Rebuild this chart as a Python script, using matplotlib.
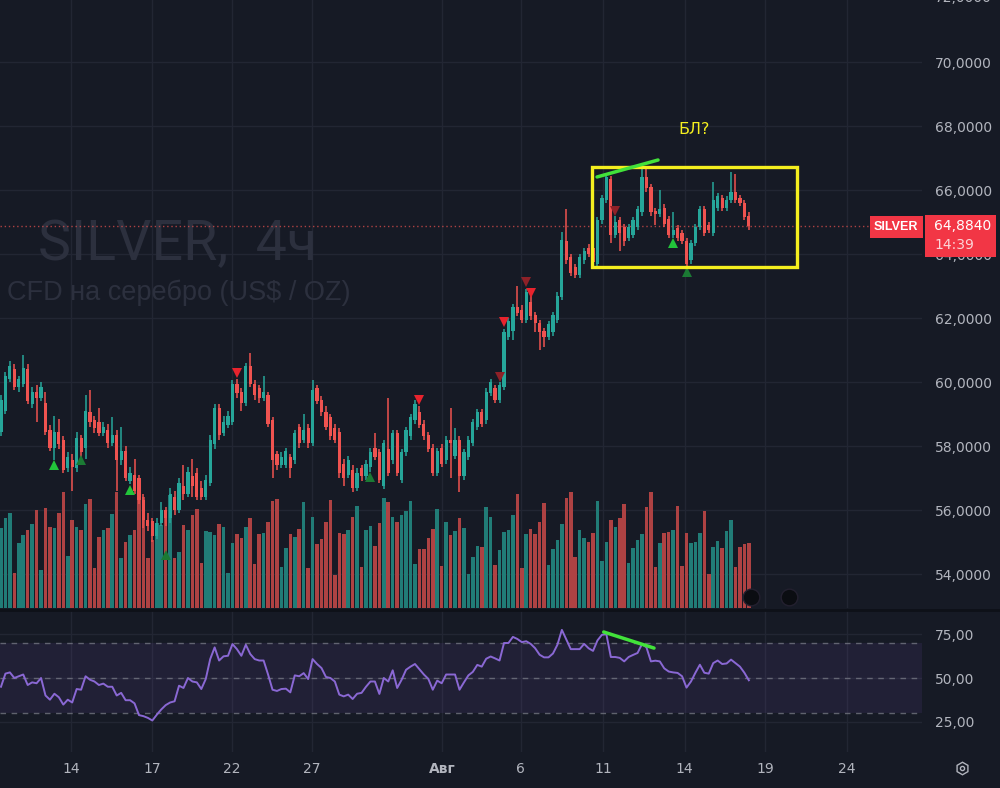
import matplotlib
matplotlib.use("Agg")
import matplotlib.pyplot as plt
from matplotlib.patches import Rectangle
from matplotlib.lines import Line2D
from matplotlib.ticker import FuncFormatter

plt.rcParams['font.family'] = ['DejaVu Sans']

# ---- SILVER 4h bars ----
opens = [
    58.44, 59.10, 60.10, 60.40, 59.85, 59.95, 60.40, 59.30, 59.70, 59.50,
    59.35, 58.50, 57.95, 58.45, 58.20, 57.30, 57.55, 57.30, 58.25, 57.95,
    59.05, 58.80, 58.75, 58.40, 58.50, 58.10, 58.35, 57.55, 57.85, 56.90,
    57.10, 57.00, 56.30, 55.70, 55.65, 55.20, 55.60, 56.00, 55.75, 56.40,
    56.00, 56.75, 56.50, 57.05, 57.15, 56.70, 56.40, 56.85, 58.05, 59.20,
    58.40, 58.65, 58.75, 59.95, 59.70, 59.35, 60.50, 59.95, 59.80, 59.50,
    59.60, 58.80, 57.75, 57.40, 57.40, 57.65, 57.55, 58.60, 58.20, 58.55,
    58.10, 59.80, 59.45, 59.05, 58.90, 58.55, 58.45, 57.45, 57.10, 57.25,
    56.70, 57.30, 57.05, 57.35, 57.95, 57.80, 56.75, 57.90, 57.55, 58.40,
    56.95, 57.80, 58.30, 58.80, 59.05, 58.70, 58.35, 57.95, 57.15, 57.95,
    57.55, 58.20, 57.70, 58.20, 57.05, 57.65, 58.10, 58.60, 59.05, 58.80,
    59.65, 59.80, 59.45, 59.85, 61.40, 61.60, 62.35, 62.25, 61.95, 62.50,
    62.10, 61.85, 61.60, 61.40, 61.55, 61.95, 62.65, 64.40, 63.90, 63.60,
    63.35, 63.80, 64.20, 64.20, 63.70, 65.05, 65.70, 66.35, 64.60, 65.05,
    64.85, 64.50, 64.60, 64.85, 65.30, 66.40, 66.10, 65.35, 65.25, 65.45,
    65.10, 64.60, 64.80, 64.65, 64.40, 63.80, 64.35, 64.85, 65.40, 64.90,
    64.65, 65.45, 65.75, 65.45, 65.70, 65.95, 65.75, 65.60, 65.20,
]
highs = [
    59.60, 60.30, 60.65, 60.55, 60.20, 60.85, 60.55, 59.85, 59.90, 60.00,
    59.70, 58.65, 58.95, 58.85, 58.30, 57.80, 57.75, 58.45, 58.35, 59.60,
    59.75, 58.95, 59.20, 58.75, 58.70, 58.90, 58.50, 58.60, 58.00, 57.35,
    57.60, 57.10, 56.50, 55.90, 55.75, 55.75, 56.25, 56.10, 56.70, 56.60,
    57.00, 57.40, 57.35, 57.60, 57.30, 56.90, 57.10, 58.35, 59.30, 59.30,
    58.95, 59.10, 60.05, 60.10, 59.80, 60.60, 60.90, 60.05, 59.90, 60.20,
    59.70, 58.90, 57.85, 57.80, 57.95, 57.75, 58.50, 58.70, 59.00, 58.70,
    60.05, 59.90, 59.55, 59.25, 59.00, 58.70, 58.55, 57.60, 57.70, 57.40,
    57.30, 57.40, 57.55, 57.95, 58.40, 57.90, 58.20, 59.50, 58.50, 58.50,
    57.90, 58.60, 59.00, 59.45, 59.25, 58.80, 58.45, 58.05, 57.95, 58.05,
    58.30, 59.20, 58.55, 58.30, 57.90, 58.30, 58.85, 59.15, 59.15, 59.80,
    60.10, 59.90, 60.00, 61.65, 62.00, 62.45, 63.00, 62.40, 62.90, 62.90,
    62.20, 61.95, 61.70, 61.90, 62.20, 62.80, 64.70, 65.40, 64.00, 63.70,
    64.00, 64.20, 64.30, 64.35, 65.15, 65.85, 66.50, 66.45, 65.20, 65.15,
    64.95, 64.95, 65.15, 65.50, 66.80, 66.70, 66.20, 65.45, 66.00, 65.55,
    65.20, 65.30, 64.90, 64.75, 64.50, 64.45, 64.95, 65.50, 65.50, 65.00,
    66.25, 65.90, 65.85, 65.80, 66.55, 66.50, 65.85, 65.70, 65.30,
]
lows = [
    58.30, 59.00, 60.00, 59.75, 59.70, 59.85, 59.30, 59.20, 58.75, 59.40,
    58.35, 57.85, 57.55, 57.90, 57.15, 57.20, 56.60, 57.20, 57.60, 57.60,
    58.60, 58.40, 58.30, 58.30, 57.95, 58.00, 56.60, 57.40, 56.90, 56.80,
    56.50, 56.20, 55.45, 55.35, 55.00, 55.10, 55.50, 55.50, 55.60, 55.85,
    55.90, 56.30, 56.40, 56.40, 56.30, 56.30, 56.30, 56.75, 57.90, 58.20,
    58.30, 58.55, 58.65, 59.50, 59.10, 59.25, 59.85, 59.45, 59.35, 59.40,
    58.60, 57.00, 57.25, 57.30, 57.30, 57.00, 57.45, 57.95, 58.10, 57.95,
    58.00, 59.30, 58.95, 58.50, 58.20, 58.10, 57.00, 56.75, 57.00, 56.55,
    56.60, 56.90, 56.95, 57.20, 57.55, 56.85, 56.65, 57.05, 57.45, 57.05,
    56.85, 57.70, 58.20, 58.70, 58.55, 58.20, 57.80, 57.05, 57.05, 57.35,
    57.45, 57.00, 57.60, 56.55, 56.95, 57.55, 58.00, 58.50, 58.60, 58.70,
    59.55, 59.35, 59.35, 59.75, 61.30, 61.30, 62.05, 61.85, 61.85, 61.95,
    61.55, 61.00, 61.10, 61.30, 61.45, 61.85, 62.55, 63.70, 63.30, 63.25,
    63.25, 63.70, 63.90, 63.65, 63.60, 64.95, 65.60, 64.35, 64.50, 64.10,
    64.25, 64.40, 64.50, 64.75, 65.20, 65.95, 65.20, 64.90, 65.15, 64.85,
    64.50, 64.50, 64.40, 64.30, 63.55, 63.70, 64.25, 64.75, 64.55, 64.65,
    64.55, 65.35, 65.35, 65.35, 65.60, 65.60, 65.50, 65.05, 64.75,
]
closes = [
    59.44, 60.20, 60.50, 59.85, 60.10, 60.45, 59.40, 59.70, 59.50, 59.85,
    58.45, 57.95, 58.45, 58.05, 57.25, 57.65, 57.35, 58.25, 57.80, 59.10,
    58.75, 58.55, 58.40, 58.60, 58.10, 58.35, 57.55, 57.85, 57.00, 57.15,
    56.60, 56.30, 55.70, 55.50, 55.20, 55.60, 56.00, 55.75, 56.50, 56.00,
    56.85, 56.50, 57.20, 56.75, 56.40, 56.40, 56.95, 58.20, 59.20, 58.35,
    58.75, 58.95, 59.95, 59.65, 59.35, 60.50, 59.95, 59.60, 59.50, 59.70,
    58.70, 57.55, 57.40, 57.65, 57.85, 57.30, 58.40, 58.10, 58.50, 58.10,
    59.75, 59.40, 59.05, 58.60, 58.30, 58.20, 57.15, 57.00, 57.55, 56.70,
    57.15, 57.05, 57.45, 57.80, 57.65, 56.95, 58.10, 57.15, 58.40, 57.15,
    57.80, 58.50, 58.90, 59.30, 58.65, 58.30, 57.90, 57.15, 57.85, 57.45,
    58.20, 58.10, 58.20, 57.05, 57.80, 58.20, 58.75, 59.05, 58.70, 59.70,
    60.00, 59.45, 59.90, 61.55, 61.90, 62.35, 62.15, 61.95, 62.80, 62.05,
    61.85, 61.55, 61.40, 61.80, 62.10, 62.70, 64.45, 63.80, 63.40, 63.35,
    63.90, 64.10, 64.00, 63.75, 65.05, 65.75, 66.40, 64.60, 65.00, 64.65,
    64.40, 64.85, 65.05, 65.40, 66.40, 66.05, 65.30, 65.25, 65.40, 64.95,
    64.60, 64.75, 64.50, 64.40, 63.70, 64.35, 64.85, 65.40, 64.65, 64.75,
    65.70, 65.80, 65.45, 65.70, 65.95, 65.70, 65.60, 65.15, 64.884,
]
# volume, thousands of lots
volumes = [
    80, 90, 95, 35, 65, 73, 78, 84, 98, 38,
    100, 81, 80, 95, 116, 52, 88, 81, 78, 104,
    109, 40, 71, 78, 80, 94, 116, 50, 66, 73,
    78, 113, 111, 50, 68, 85, 83, 91, 113, 50,
    56, 83, 78, 93, 99, 45, 77, 76, 73, 84,
    81, 35, 65, 74, 70, 81, 90, 44, 74, 75,
    86, 107, 109, 41, 60, 74, 71, 79, 106, 40,
    91, 64, 69, 86, 108, 33, 75, 74, 78, 91,
    102, 41, 78, 82, 62, 85, 110, 106, 91, 86,
    93, 97, 107, 44, 59, 59, 70, 79, 99, 42,
    86, 73, 77, 90, 80, 34, 51, 62, 61, 101,
    91, 43, 58, 76, 78, 93, 114, 40, 74, 79,
    74, 86, 105, 43, 59, 68, 84, 110, 116, 51,
    78, 70, 66, 75, 107, 47, 66, 88, 81, 90,
    104, 45, 60, 68, 74, 101, 116, 41, 65, 75,
    76, 78, 102, 42, 75, 65, 66, 75, 97, 34,
    61, 67, 60, 77, 88, 41, 61, 64, 65,
]
rsi = [
    45, 52.5, 53.2, 50, 51, 52, 46, 47.5, 47, 50,
    40, 37.6, 41, 39, 34.8, 37.6, 36, 43.7, 43.3, 51,
    49, 48, 46, 46.8, 45, 45, 40, 41.5, 37.3, 37.3,
    35.5, 28.8, 28.2, 27.2, 25.7, 29, 32, 34.5, 36, 36.7,
    45.6, 44.3, 50, 48, 47.5, 43.7, 49.4, 60.8, 67.5, 60,
    62.4, 62.7, 69.4, 66.5, 62.7, 69, 63.7, 60.8, 60, 60,
    52, 43.3, 42.6, 43.7, 43.9, 41.8, 51.5, 51, 52.8, 49.4,
    60.8, 58, 55.7, 50.6, 50, 48, 40.5, 39.5, 40.5, 38,
    41, 41.5, 45, 48, 48, 40.9, 50, 48, 54.4, 44.3,
    49, 54.7, 56.5, 58, 55, 52, 49.5, 43.3, 48.5, 47,
    52, 52, 52, 43.3, 47.5, 51.5, 53.5, 57.5, 56.5, 61,
    62.3, 61.2, 60, 70, 70, 73.5, 72.3, 70.5, 71, 69.5,
    67, 63.3, 61.8, 61.8, 64, 69, 77.5, 72, 66.5, 66.5,
    66.5, 69.5, 67, 65.5, 71.5, 74.7, 75, 62, 62, 61.5,
    59.5, 62, 63.2, 64.3, 69.4, 67.5, 59.5, 59.9, 59.5, 55.5,
    53.7, 53.2, 52.9, 51, 44.5, 48, 53, 57.6, 53, 52.5,
    58.5, 60, 58, 58.3, 60.5, 58.5, 56.5, 53, 48.7,
]

# time axis (positions in bars)
day_ticks = [15.7, 33.9, 51.9, 69.9, 99.1, 116.8, 135.2, 153.6, 171.6, 190.0]
day_labels = ['14', '17', '22', '27', 'Авг', '6', '11', '14', '19', '24']
price_ticks = [54, 56, 58, 60, 62, 64, 66, 68, 70]
rsi_ticks = [25, 50, 75]
rsi_levels = [30, 50, 70]

# indicator signals: (bar, price)
up_strong = ([12, 29, 151], [57.41, 56.63, 64.34])
up_weak = ([18, 37, 83, 154], [57.56, 54.59, 57.03, 63.44])
dn_strong = ([53, 94, 113, 119], [60.28, 59.44, 61.88, 62.78])
dn_weak = ([112, 118, 138], [60.16, 63.13, 65.34])
event_bars = [168.5, 177.0]

# hand drawn marks
box_bars = (132.7, 178.8)
box_prices = (63.59, 66.72)
trend_price = ([133.9, 147.6], [66.41, 66.94])
trend_rsi = ([135.4, 146.7], [76.3, 67.1])
note_pos = (155.8, 67.9)

BG = '#161a25'
GRID = '#222633'
TXT = '#b2b5be'
UP = '#26a69a'
DOWN = '#ef5350'
VUP = '#217c77'
VDOWN = '#ae4243'
YEL = '#f5ef1f'
LIME = '#42e23a'
TAG = '#f23645'
WM = '#2c303e'

n = len(closes)
bars = list(range(n))
is_up = [c >= o for o, c in zip(opens, closes)]
ccol = [UP if u else DOWN for u in is_up]
vcol = [VUP if u else VDOWN for u in is_up]

fig = plt.figure(figsize=(10, 7.88), dpi=100)
fig.patch.set_facecolor(BG)

W = 0.922
xlim = (-0.22, 206.9)
ax = fig.add_axes([0, 180 / 788, W, 608 / 788])
axr = fig.add_axes([0, 36 / 788, W, 141 / 788])

for a in (ax, axr):
    a.set_facecolor(BG)
    for s in a.spines.values():
        s.set_visible(False)
    a.set_xlim(*xlim)
    a.set_xticks(day_ticks)
    a.yaxis.tick_right()
    a.tick_params(axis='y', length=0, pad=9, labelcolor=TXT, labelsize=10)
    a.grid(True, color=GRID, lw=1)
    a.set_axisbelow(True)

# ---- price pane ----
ax.set_ylim(52.94, 71.94)
ax.set_yticks(price_ticks)
ax.yaxis.set_major_formatter(FuncFormatter(lambda v, p: f"{v:.4f}".replace('.', ',')))
ax.tick_params(axis='x', length=0, labelbottom=False)
ax.annotate("72,0000", xy=(1, 72), xycoords=ax.get_yaxis_transform(), xytext=(9, 0),
            textcoords='offset points', va='center', ha='left', color=TXT, fontsize=10,
            annotation_clip=False)

ax.text(38 / 1000, 1 - 260 / 788, "SILVER,  4ч", transform=fig.transFigure,
        fontsize=40, color=WM, family='Roboto', va='baseline', zorder=0.6)
ax.text(7 / 1000, 1 - 300 / 788, "CFD на серебро (US$ / OZ)", transform=fig.transFigure,
        fontsize=19.5, color=WM, family='Liberation Sans', va='baseline', zorder=0.6)

# volume at the bottom of the price pane
vol_span = 608
ax.bar(bars, [v / vol_span for v in volumes], width=0.8, bottom=0, color=vcol, lw=0,
       transform=ax.get_xaxis_transform(), zorder=1)

# candles
ax.vlines(bars, lows, highs, colors=ccol, lw=1.1, zorder=2)
body_h = [max(abs(c - o), 0.03) for o, c in zip(opens, closes)]
body_b = [min(o, c) for o, c in zip(opens, closes)]
ax.bar(bars, body_h, bottom=body_b, width=0.72, color=ccol, lw=0, zorder=3)

ax.plot(*up_strong, ls='none', marker='^', ms=7, color='#22c43a', mew=0, zorder=4)
ax.plot(*up_weak, ls='none', marker='^', ms=7, color='#1b7a34', mew=0, zorder=4)
ax.plot(*dn_strong, ls='none', marker='v', ms=7, color='#e8232d', mew=0, zorder=4)
ax.plot(*dn_weak, ls='none', marker='v', ms=7, color='#8e2128', mew=0, zorder=4)

last = closes[-1]
ax.axhline(last, color=DOWN, lw=1, ls=(0, (1, 2)), alpha=0.7, zorder=1.5)

ax.add_patch(Rectangle((box_bars[0], box_prices[0]), box_bars[1] - box_bars[0],
                       box_prices[1] - box_prices[0], fill=False, ec=YEL, lw=2.4, zorder=5))
ax.plot(*trend_price, color=LIME, lw=2.5, solid_capstyle='round', zorder=6)
ax.text(*note_pos, "БЛ?", color=YEL, fontsize=11.5, ha='center', va='center', zorder=6)

ax.plot(event_bars, [53.28, 53.28], ls='none', marker='o', ms=12, mfc='#0b0d12',
        mec='#23202f', mew=1, zorder=6)

# ---- RSI pane ----
axr.set_ylim(7.7, 88.3)
axr.set_yticks(rsi_ticks)
axr.yaxis.set_major_formatter(FuncFormatter(lambda v, p: f"{v:.2f}".replace('.', ',')))
axr.set_xticklabels(day_labels)
axr.tick_params(axis='x', length=0, pad=7, labelcolor=TXT, labelsize=10)
for lab in axr.get_xticklabels():
    if lab.get_text() == 'Авг':
        lab.set_fontweight('bold')
axr.axhspan(rsi_levels[0], rsi_levels[2], color='#7e57c2', alpha=0.11, lw=0, zorder=0.8)
for lv in rsi_levels:
    axr.axhline(lv, color='#787b86', lw=1, ls=(0, (4, 4)), alpha=0.75, zorder=1)
axr.plot(bars, rsi, color='#8a68d4', lw=1.4, zorder=2)
axr.plot(*trend_rsi, color=LIME, lw=2.5, solid_capstyle='round', zorder=3)

# ---- price tag on the scale ----
fig.canvas.draw()
py = ax.transData.transform((0, last))[1]
fig.add_artist(Rectangle((870 / 1000, (py - 12) / 788), 53 / 1000, 22 / 788,
                         transform=fig.transFigure, color=TAG, lw=0, zorder=10))
fig.text(896 / 1000, (py - 1) / 788, "SILVER", ha='center', va='center', color='white',
         fontsize=9, fontweight='bold', family='Liberation Sans', zorder=11)
fig.add_artist(Rectangle((925 / 1000, (py - 31) / 788), 71 / 1000, 42 / 788,
                         transform=fig.transFigure, color=TAG, lw=0, zorder=10))
fig.text(934 / 1000, py / 788, f"{last:.4f}".replace('.', ','), ha='left', va='center',
         color='white', fontsize=10, zorder=11)
fig.text(934 / 1000, (py - 19) / 788, "14:39", ha='left', va='center',
         color='#fbd5d8', fontsize=10, zorder=11)

# pane separator and settings icon
fig.add_artist(Line2D([0, 1], [1 - 609.5 / 788] * 2, color='#0e1118', lw=2, zorder=9))
fig.add_artist(Line2D([0.962], [1 - 768 / 788], marker='h', ms=9, mfc='none', mec=TXT,
                      mew=1, transform=fig.transFigure, zorder=9))
fig.add_artist(Line2D([0.962], [1 - 768 / 788], marker='o', ms=3, mfc='none', mec=TXT,
                      mew=1, transform=fig.transFigure, zorder=9))

fig.savefig("out.png", dpi=100, facecolor=BG)
